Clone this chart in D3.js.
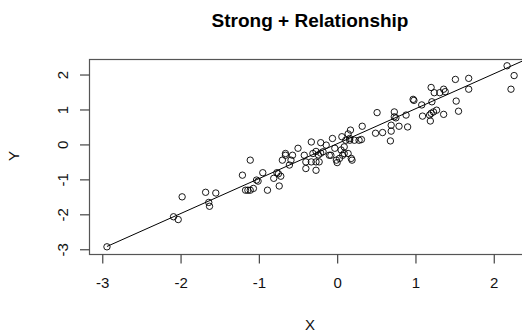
<!DOCTYPE html>
<html>
<head>
<meta charset="utf-8">
<script src="https://cdn.jsdelivr.net/npm/d3@7"></script>
<style>
  html, body { margin: 0; padding: 0; background: #fff; }
  svg { display: block; font-family: "Liberation Sans", Arial, sans-serif; }
</style>
</head>
<body>
<div id="chart"></div>
<script>
const xVals = [
  -2.94, -2.09, -2.03, -1.98, -1.68, -1.64, -1.63, -1.55, -1.21, -1.17,
  -1.14, -1.11, -1.11, -1.07, -1.03, -1.01, -0.95, -0.89, -0.81, -0.77,
  -0.75, -0.74, -0.72, -0.70, -0.66, -0.61, -0.59, -0.66, -0.57, -0.50,
  -0.42, -0.40, -0.40, -0.33, -0.31, -0.27, -0.27, -0.23, -0.27, -0.24,
  -0.21, -0.18, -0.10, -0.08, -0.33, -0.21, -0.14, -0.06, -0.03, 0.00,
  -0.01, 0.03, 0.05, 0.07, 0.09, 0.06, 0.09, 0.14, 0.14, 0.16,
  0.11, 0.16, 0.18, 0.19, 0.17, 0.22, 0.28, 0.31, 0.32, 0.49,
  0.51, 0.58, 0.68, 0.69, 0.69, 0.73, 0.73, 0.75, 0.79, 0.88,
  0.90, 0.97, 0.98, 1.08, 1.09, 1.18, 1.19, 1.20, 1.23, 1.27,
  1.21, 1.20, 1.24, 1.31, 1.36, 1.38, 1.36, 1.51, 1.52, 1.55,
  1.68, 1.68, 2.17, 2.26, 2.22
];
const yVals = [
  -2.93, -2.07, -2.15, -1.50, -1.37, -1.66, -1.77, -1.39, -0.88, -1.31,
  -1.31, -1.31, -0.45, -1.26, -1.02, -1.05, -0.81, -1.31, -0.97, -0.81,
  -0.84, -1.19, -0.91, -0.45, -0.31, -0.59, -0.45, -0.26, -0.31, -0.11,
  -0.31, -0.69, -0.50, -0.50, -0.26, -0.74, -0.50, -0.50, -0.20, -0.30,
  -0.25, -0.21, -0.31, -0.31, 0.07, 0.05, -0.02, 0.17, -0.11, -0.52,
  -0.45, -0.40, -0.16, -0.31, -0.07, 0.22, -0.26, -0.26, 0.30, 0.12,
  0.12, 0.17, -0.40, -0.45, 0.41, 0.12, 0.12, 0.14, 0.52, 0.32,
  0.91, 0.34, 0.10, 0.38, 0.55, 0.93, 0.79, 0.76, 0.52, 0.84,
  0.50, 1.29, 1.26, 1.13, 0.81, 0.84, 0.67, 0.89, 0.93, 0.98,
  1.22, 1.63, 1.48, 1.48, 1.58, 1.51, 0.86, 1.86, 1.24, 0.95,
  1.89, 1.58, 2.25, 1.97, 1.58
];
// fitted line as drawn in the reference (intercept, slope)
const fitCoef = [0.02, 1.0];
const xTicks = [-3, -2, -1, 0, 1, 2];
const yTicks = [-3, -2, -1, 0, 1, 2];
const titleText = "Strong + Relationship";
const xLabel = "X";
const yLabel = "Y";

const width = 522, height = 332;
const plot = { left: 89.5, top: 59.5, bottom: 254.5 };

const points = xVals.map((x, i) => ({ x, y: yVals[i] }));

// R-style axis range: data range padded by 4%, right edge falls outside the window
const x = d3.scaleLinear().domain([-3.163, 2.86]).range([plot.left, plot.left + 78.3 * 6.023]);
const y = d3.scaleLinear().domain([-3.15, 2.43]).range([plot.bottom, plot.top]);
const tickFmt = d => String(d); // plain hyphen minus, like R

const svg = d3.select('#chart')
  .append('svg')
  .attr('width', width)
  .attr('height', height);

const fitX = [d3.min(xVals), x.domain()[1]];
svg.append('line')
  .attr('x1', x(fitX[0])).attr('y1', y(fitCoef[0] + fitCoef[1] * fitX[0]))
  .attr('x2', x(fitX[1])).attr('y2', y(fitCoef[0] + fitCoef[1] * fitX[1]))
  .attr('stroke', '#000')
  .attr('stroke-width', 1);

svg.append('g')
  .selectAll('circle')
  .data(points)
  .enter()
  .append('circle')
  .attr('cx', d => x(d.x))
  .attr('cy', d => y(d.y))
  .attr('r', 3.2)
  .attr('fill', 'none')
  .attr('stroke', '#000')
  .attr('stroke-width', 0.9);

// plot box
svg.append('rect')
  .attr('x', x.range()[0])
  .attr('y', plot.top)
  .attr('width', x.range()[1] - x.range()[0])
  .attr('height', plot.bottom - plot.top)
  .attr('fill', 'none')
  .attr('stroke', '#555')
  .attr('stroke-width', 1.2);

// x axis
const xAxis = svg.append('g')
  .attr('transform', `translate(0, ${plot.bottom})`)
  .call(d3.axisBottom(x).tickValues(xTicks).tickSize(9).tickPadding(14).tickFormat(tickFmt));
xAxis.select('.domain').remove();
xAxis.selectAll('.tick line').attr('stroke', '#444').attr('stroke-width', 1.2);
xAxis.selectAll('.tick text')
  .attr('fill', '#111')
  .style('font-size', '15px')
  .style('font-family', '"Liberation Sans", Arial, sans-serif');

// y axis, labels rotated as in base R
const yAxis = svg.append('g')
  .attr('transform', `translate(${plot.left}, 0)`)
  .call(d3.axisLeft(y).tickValues(yTicks).tickSize(9.5).tickFormat(tickFmt));
yAxis.select('.domain').remove();
yAxis.selectAll('.tick line').attr('stroke', '#444').attr('stroke-width', 1.2);
yAxis.selectAll('.tick text')
  .attr('x', null).attr('dy', null)
  .attr('transform', 'translate(-21.5, 0) rotate(-90)')
  .attr('text-anchor', 'middle')
  .attr('fill', '#111')
  .style('font-size', '15px')
  .style('font-family', '"Liberation Sans", Arial, sans-serif');

svg.append('text')
  .attr('x', 310)
  .attr('y', 27)
  .attr('text-anchor', 'middle')
  .style('font-size', '19px')
  .style('font-weight', 'bold')
  .attr('fill', '#000')
  .text(titleText);

svg.append('text')
  .attr('x', 310)
  .attr('y', 330)
  .attr('text-anchor', 'middle')
  .style('font-size', '15px')
  .attr('fill', '#111')
  .text(xLabel);

svg.append('text')
  .attr('transform', 'translate(19, 156) rotate(-90)')
  .attr('text-anchor', 'middle')
  .style('font-size', '15px')
  .attr('fill', '#111')
  .text(yLabel);
</script>
</body>
</html>
